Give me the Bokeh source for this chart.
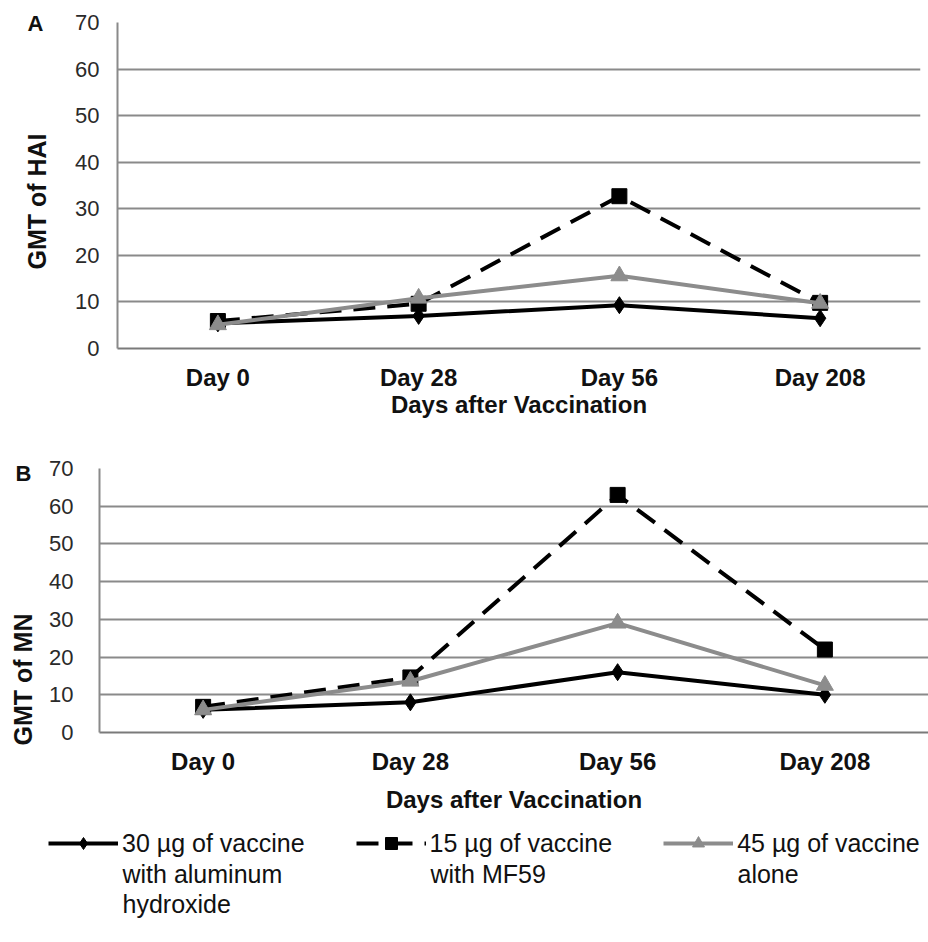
import math
from bokeh.plotting import figure
from bokeh.models import FactorRange, Range1d, FixedTicker, Label, Legend, LegendItem
from bokeh.layouts import column, row
from bokeh.embed import file_html
from bokeh.resources import INLINE

# ---- data ----
days = ["Day 0", "Day 28", "Day 56", "Day 208"]
y_ticks = [0, 10, 20, 30, 40, 50, 60, 70]

hai_alum = [5.4, 7.0, 9.3, 6.5]
hai_mf59 = [5.9, 9.6, 32.7, 9.8]
hai_alone = [5.1, 10.8, 15.6, 9.7]

mn_alum = [6.0, 8.0, 16.0, 10.0]
mn_mf59 = [6.8, 14.6, 63.0, 22.0]
mn_alone = [6.0, 13.6, 29.0, 12.5]

# legend labels: first line in the legend, the following lines written beneath it
series_first = ["30 \u00b5g of vaccine", "15 \u00b5g of vaccine", "45 \u00b5g of vaccine"]
series_more = [["with aluminum", "hydroxide"], ["with MF59"], ["alone"]]
panel_titles = ["GMT of HAI", "GMT of MN"]
panel_letters = ["A", "B"]
x_title = "Days after Vaccination"

FONT = "Liberation Sans, Arial, sans-serif"
GRID = "#8a8a8a"
GRAY = "#8c8c8c"

STYLES = [
    dict(line=dict(line_color="black", line_width=4),
         marker=dict(marker="diamond", size=17, fill_color="black", line_color="black")),
    dict(line=dict(line_color="black", line_width=4, line_dash="22 12"),
         marker=dict(marker="square", size=15, fill_color="black", line_color="black")),
    dict(line=dict(line_color=GRAY, line_width=4),
         marker=dict(marker="triangle", size=17, fill_color=GRAY, line_color=GRAY)),
]


def bare(width, height, xr, yr):
    p = figure(width=width, height=height, x_range=xr, y_range=yr, title=None,
               output_backend="svg", toolbar_location=None,
               x_axis_location=None, y_axis_location=None,
               min_border_left=0, min_border_right=0, min_border_top=0, min_border_bottom=0)
    p.grid.visible = False
    p.outline_line_color = None
    return p


def strip(width, height, letter, lx, ly, title, tx, ty):
    s = bare(width, height, Range1d(0, width), Range1d(height, 0))
    s.add_layout(Label(x=lx, y=ly, text=letter, text_font=FONT, text_font_size="22px",
                       text_font_style="bold", text_color="#111111",
                       text_baseline="middle", text_align="left"))
    s.add_layout(Label(x=tx, y=ty, text=title, angle=math.pi / 2, text_font=FONT,
                       text_font_size="25px", text_font_style="bold", text_color="#111111",
                       text_baseline="middle", text_align="center"))
    return s


def panel(width, height, left, right, top, bottom, tick_standoff, lab_standoff,
          title_standoff, series):
    p = figure(width=width, height=height, x_range=FactorRange(*days), y_range=Range1d(0, 70),
               title=None, output_backend="svg", toolbar_location=None,
               min_border_left=left, min_border_right=right,
               min_border_top=top, min_border_bottom=bottom)
    p.outline_line_color = None
    p.xgrid.grid_line_color = None
    p.ygrid.grid_line_color = GRID
    p.ygrid.grid_line_width = 2

    p.yaxis.ticker = FixedTicker(ticks=y_ticks)
    p.yaxis.major_tick_line_color = None
    p.yaxis.minor_tick_line_color = None
    p.yaxis.axis_line_color = GRID
    p.yaxis.axis_line_width = 2
    p.yaxis.major_label_text_font = FONT
    p.yaxis.major_label_text_font_size = "22px"
    p.yaxis.major_label_text_color = "#2a2a2a"
    p.yaxis.major_label_standoff = tick_standoff

    p.xaxis.major_tick_line_color = None
    p.xaxis.axis_line_color = "#7a7a7a"
    p.xaxis.axis_line_width = 2
    p.xaxis.major_label_text_font = FONT
    p.xaxis.major_label_text_font_size = "24px"
    p.xaxis.major_label_text_font_style = "bold"
    p.xaxis.major_label_text_color = "#111111"
    p.xaxis.major_label_standoff = lab_standoff
    p.xaxis.axis_label = x_title
    p.xaxis.axis_label_text_font = FONT
    p.xaxis.axis_label_text_font_size = "24px"
    p.xaxis.axis_label_text_font_style = "bold"
    p.xaxis.axis_label_text_color = "#111111"
    p.xaxis.axis_label_standoff = title_standoff

    # draw order: MF59 (dashed), aluminum (black), alone (gray)
    for idx in (1, 0, 2):
        vals = series[idx]
        p.line(days, vals, **STYLES[idx]["line"])
        p.scatter(days, vals, **STYLES[idx]["marker"])
    return p


# Panel A (page y 0..420)
stripA = strip(60, 420, panel_letters[0], 27, 23, panel_titles[0], 36, 201)
pA = panel(868, 420, 57, 8, 22, 72, 12, 9, -3, [hai_alum, hai_mf59, hai_alone])

# Panel B (page y 420..818)
stripB = strip(45, 398, panel_letters[1], 15, 53, panel_titles[1], 22, 259)
pB = panel(883, 398, 54, 0, 48, 86, 20, 9, 8, [mn_alum, mn_mf59, mn_alone])

# Legend strip (page y 818..942); its renderers use the real data but lie outside its view
LW, LH = 928, 124
Y0, Y1 = 200, 300
pL = bare(LW, LH, FactorRange(*days), Range1d(Y0, Y1))
all_series = [mn_alum, mn_mf59, mn_alone]
items = []
for name, st, vals in zip(series_first, STYLES, all_series):
    rl = pL.line(days, vals, **st["line"])
    rm = pL.scatter(days, vals, **st["marker"])
    items.append(LegendItem(label=name, renderers=[rl, rm]))
legend = Legend(items=items, orientation="horizontal", location=(48, 84),
                border_line_color=None, background_fill_alpha=0, padding=0, margin=0,
                spacing=51, glyph_width=70, glyph_height=30, label_standoff=4,
                label_text_font=FONT, label_text_font_size="25px",
                label_text_line_height=1.2, label_text_color="#111111")
pL.add_layout(legend, "center")


def sx(px):  # pixel from left -> synthetic categorical coordinate
    return px * len(days) / LW


def sy(py):  # pixel from top -> y data coordinate
    return Y1 - py * (Y1 - Y0) / LH


text_x = [122, 430, 737]
for tx, lines in zip(text_x, series_more):
    for k, line in enumerate(lines):
        pL.add_layout(Label(x=sx(tx), y=sy(55 + 30 * k), text=line,
                            text_font=FONT, text_font_size="25px",
                            text_color="#111111", text_baseline="middle",
                            text_align="left"))

layout = column(row(column(stripA), pA, spacing=0),
                row(column(stripB), pB, spacing=0),
                pL, spacing=0)
open("out.html", "w").write(file_html(layout, INLINE))
